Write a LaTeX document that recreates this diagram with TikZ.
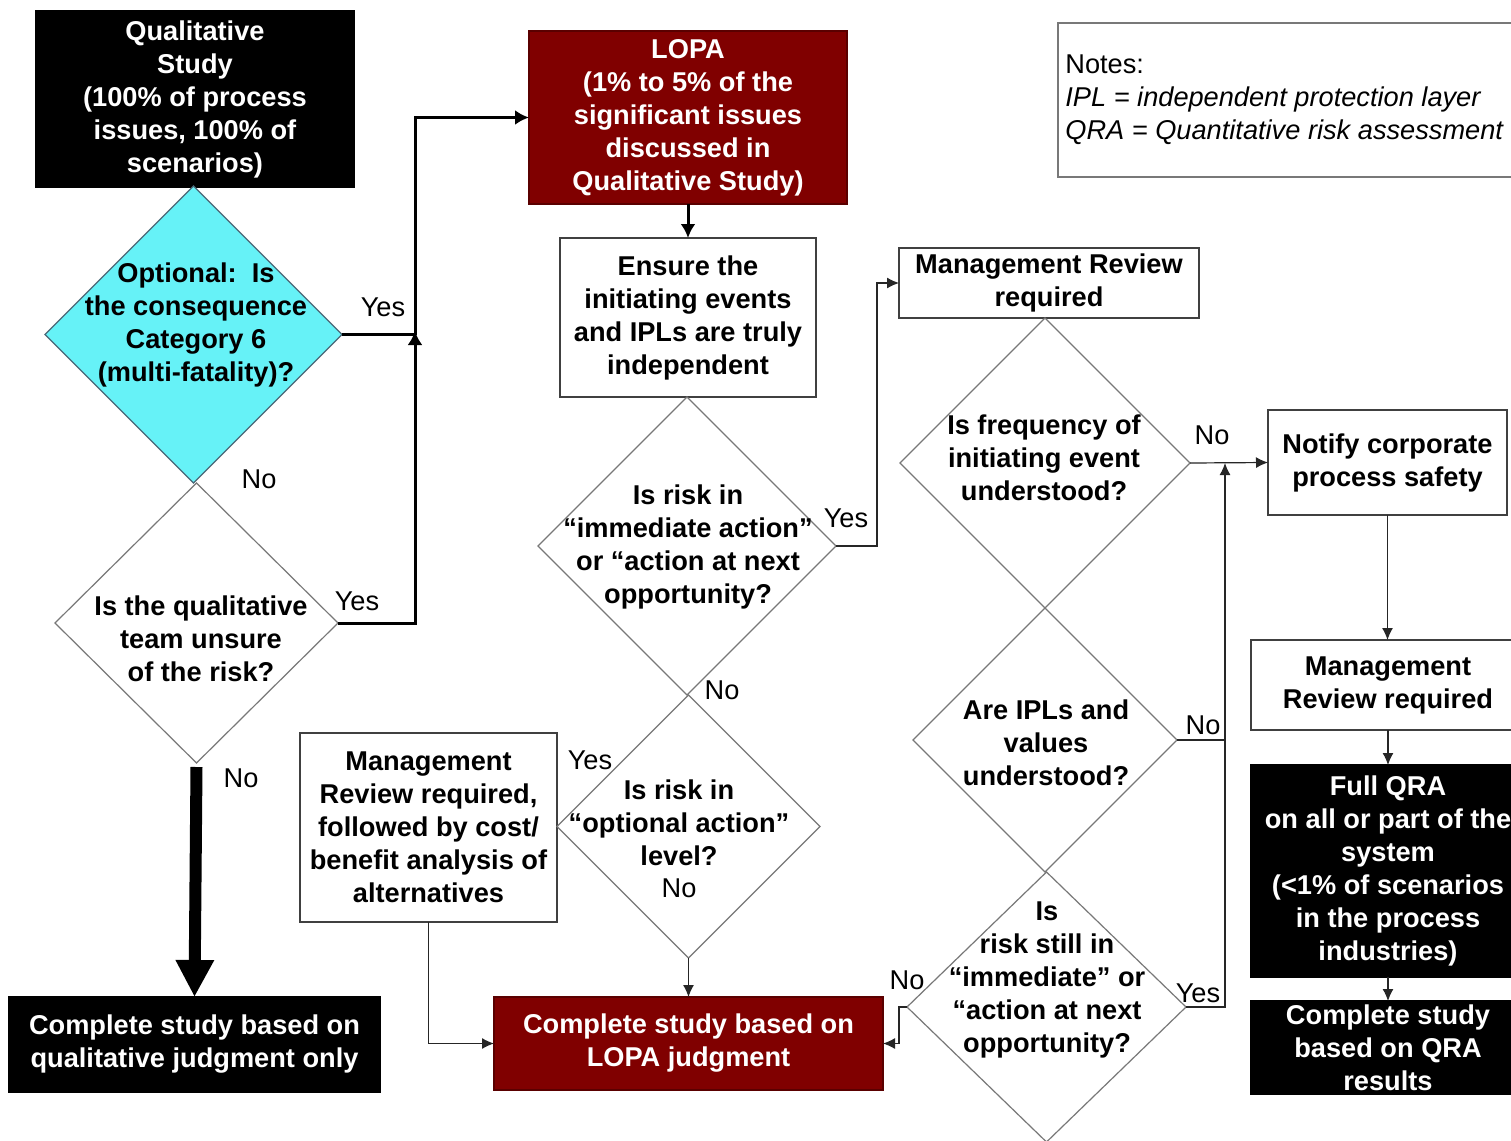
\documentclass[tikz,border=0pt]{standalone}
\usepackage{fontspec}
\setmainfont{Liberation Sans}
\usetikzlibrary{shapes.geometric,arrows.meta}
\definecolor{cyanfill}{RGB}{102,242,247}
\definecolor{lopared}{RGB}{128,0,0}
\definecolor{edgegray}{RGB}{120,120,120}
\begin{document}
\begin{tikzpicture}[x=0.5pt,y=-0.5pt,
  txt/.style={font=\bfseries\fontsize{13.6}{16.5}\selectfont, align=center},
  lbl/.style={font=\fontsize{13.6}{16.5}\selectfont, inner sep=0},
  box/.style={draw=black!75, line width=0.8pt, inner sep=0, outer sep=0, txt},
  blackbox/.style={box, draw=black, fill=black, text=white},
  redbox/.style={box, draw=lopared!70!black, fill=lopared, text=white},
  dia/.style={diamond, draw=edgegray, line width=0.6pt, inner sep=0, outer sep=0},
  thickline/.style={line width=1.5pt},
  thickc/.style={line width=1.5pt, -{Latex[length=7pt,width=7.5pt]}},
  thinline/.style={line width=0.6pt, draw=black!85},
  thinc/.style={line width=0.6pt, draw=black!85, -{Latex[length=6pt,width=5.5pt]}},
  bigarrow/.style={line width=6pt, -{Triangle[length=18.5pt,width=18pt]}}
]
\useasboundingbox (0,0) rectangle (1511,1141);
\clip (0,0) rectangle (1511,1141);
\fill[white] (0,0) rectangle (1511,1141);

% boxes
\node[blackbox, minimum width=159pt, minimum height=88.5pt] (qual) at (195,99)
  {Qualitative\\Study\\(100\% of process\\issues, 100\% of\\scenarios)};
\node[redbox, minimum width=159pt, minimum height=86.5pt] (lopa) at (688,117.5)
  {LOPA\\(1\% to 5\% of the\\significant issues\\discussed in\\Qualitative Study)};
\node[box, minimum width=128pt, minimum height=79.5pt] (ensure) at (688,317.5)
  {Ensure the\\initiating events\\and IPLs are truly\\independent};
\node[box, minimum width=150pt, minimum height=35pt] (mr1) at (1049,283)
  {Management Review\\required};
\node[box, draw=edgegray, minimum width=241pt, minimum height=77pt, anchor=north west] (notes) at (1058,23) {};
\node[font=\fontsize{13.6}{16.5}\selectfont, align=left, anchor=west, inner sep=0] (notestext) at (1065,100)
  {Notes:\\\textit{IPL = independent protection layer}\\\textit{QRA = Quantitative risk assessment}};
\node[box, minimum width=119.5pt, minimum height=52.5pt] (notify) at (1387.5,462.5)
  {Notify corporate\\process safety};
\node[box, minimum width=137pt, minimum height=45pt] (mr2) at (1388,685)
  {Management\\Review required};
\node[blackbox, minimum width=137pt, minimum height=106pt] (qra) at (1388,871)
  {Full QRA\\on all or part of the\\system\\(<1\% of scenarios\\in the process\\industries)};
\node[blackbox, minimum width=137pt, minimum height=46.5pt] (qrac) at (1388,1047.5)
  {Complete study\\based on QRA\\results};
\node[box, minimum width=128.5pt, minimum height=94.5pt] (mrc) at (428.5,827.5)
  {Management\\Review required,\\followed by cost/\\benefit analysis of\\alternatives};
\node[redbox, minimum width=194.5pt, minimum height=46.5pt] (lopaj) at (688.5,1043.5)
  {Complete study based on\\LOPA judgment};
\node[blackbox, minimum width=185.5pt, minimum height=47.5pt] (qualc) at (194.5,1044.5)
  {Complete study based on\\qualitative judgment only};

% diamonds
\node[dia, fill=cyanfill, draw=black!60!cyan, minimum width=148.5pt, minimum height=148.5pt] (d1) at (193.5,334.5) {};
\node[txt] (d1t) at (196,325) {Optional:\ \ Is\\the consequence\\Category 6\\(multi-fatality)?};
\node[dia, minimum width=141.5pt, minimum height=140pt] (d2) at (196.5,623) {};
\node[txt] (d2t) at (201,639) {Is the qualitative\\team unsure\\of the risk?};
\node[dia, minimum width=149pt, minimum height=149pt] (d3) at (687,546) {};
\node[txt] (d3t) at (688,547) {Is risk in\\“immediate action”\\or “action at next\\opportunity?};
\node[dia, minimum width=131.5pt, minimum height=131.5pt] (d4) at (688.5,826.5) {};
\node[txt] (d4t) at (679,823) {Is risk in\\“optional action”\\level?};
\node[dia, minimum width=145pt, minimum height=145pt] (d5) at (1045,463) {};
\node[txt] (d5t) at (1044,458) {Is frequency of\\initiating event\\understood?};
\node[dia, minimum width=132pt, minimum height=132pt] (d6) at (1045,740) {};
\node[txt] (d6t) at (1046,743) {Are IPLs and\\values\\understood?};
\node[dia, minimum width=139.5pt, minimum height=135pt] (d7) at (1046.5,1007) {};
\node[txt] (d7t) at (1047,980) {Is\\risk still in\\“immediate” or\\“action at next\\opportunity?};

% connectors
\coordinate (j1) at (415,331);
\draw[thickc] (d2.east) -| (j1);
\draw[thickline] (d1.east) -- (d1.east -| j1);
\draw[thickc] (d1.east -| j1) |- (lopa.west);
\draw[thickc] (lopa.south) -- (ensure.north);
\draw[bigarrow] ([yshift=-2pt]d2.south) -- (qualc.north);

\draw[thinc] (d3.east) -- ++(41,0) |- (mr1.west);
\draw[thinc] (d5.east) -- (notify.west);
\coordinate (j2) at (1225,463);
\draw[thinc] (d7.east) -| (j2);
\draw[thinline] (d6.east) -- (d6.east -| j2);
\draw[thinc] (d7.west) -- ++(-8,0) |- (lopaj.east);
\draw[thinc] (d4.south) -- (lopaj.north);
\draw[thinc] (mrc.south) |- (lopaj.west);
\draw[thinc] (notify.south) -- (notify.south |- mr2.north);
\draw[thinc] (mr2.south) -- (qra.north);
\draw[thinc] (qra.south) -- (qrac.north);

% labels
\node[lbl] (l1) at (383,307) {Yes};
\node[lbl] (l2) at (259,479) {No};
\node[lbl] (l3) at (357,601) {Yes};
\node[lbl] (l4) at (241,778) {No};
\node[lbl] (l5) at (846,518) {Yes};
\node[lbl] (l6) at (722,690) {No};
\node[lbl] (l7) at (590,760) {Yes};
\node[lbl] (l8) at (679,888) {No};
\node[lbl] (l9) at (1212,435) {No};
\node[lbl] (l10) at (1203,725) {No};
\node[lbl] (l11) at (1198,993) {Yes};
\node[lbl] (l12) at (907,980) {No};
\end{tikzpicture}
\end{document}
